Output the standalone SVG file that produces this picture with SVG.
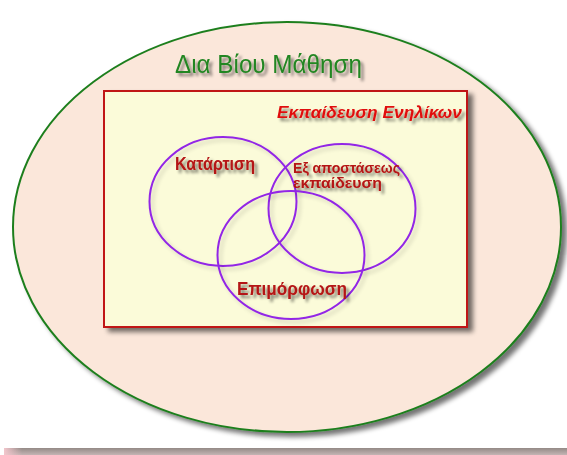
<svg xmlns="http://www.w3.org/2000/svg" width="567" height="455" viewBox="0 0 567 455">
<defs>
<style>
.t{font-family:"Liberation Sans",Arial,sans-serif;}
.venn{fill:none;stroke:#9226e6;stroke-width:2;}
.lbl{font-weight:bold;fill:#b41414;}
</style>
<filter id="sh" x="-20%" y="-20%" width="140%" height="140%">
<feGaussianBlur in="SourceAlpha" stdDeviation="2.5"/>
<feOffset dx="5" dy="4" result="b"/>
<feComponentTransfer><feFuncA type="linear" slope="0.55"/></feComponentTransfer>
<feMerge><feMergeNode/><feMergeNode in="SourceGraphic"/></feMerge>
</filter>
<filter id="tsh" x="-20%" y="-50%" width="140%" height="200%">
<feGaussianBlur in="SourceAlpha" stdDeviation="1.6"/>
<feOffset dx="3" dy="3"/>
<feComponentTransfer><feFuncA type="linear" slope="0.5"/></feComponentTransfer>
<feMerge><feMergeNode/><feMergeNode in="SourceGraphic"/></feMerge>
</filter>
<filter id="csh" x="-20%" y="-20%" width="140%" height="140%">
<feGaussianBlur in="SourceAlpha" stdDeviation="2"/>
<feOffset dx="3" dy="3"/>
<feComponentTransfer><feFuncA type="linear" slope="0.18"/></feComponentTransfer>
<feMerge><feMergeNode/><feMergeNode in="SourceGraphic"/></feMerge>
</filter>
<linearGradient id="bar" x1="0" y1="0" x2="0" y2="1">
<stop offset="0" stop-color="#948a86"/>
<stop offset="1" stop-color="#c4b4b4"/>
</linearGradient>
<linearGradient id="barL" x1="0" y1="0" x2="1" y2="0">
<stop offset="0" stop-color="#f2c6cc" stop-opacity="1"/>
<stop offset="1" stop-color="#f2c6cc" stop-opacity="0"/>
</linearGradient>
</defs>
<rect width="567" height="455" fill="#ffffff"/>
<g id="bottom-bar">
<rect x="4" y="448" width="563" height="7" fill="url(#bar)"/>
<rect x="4" y="448" width="18" height="7" fill="url(#barL)"/>
</g>
<g id="lifelong-learning">
<ellipse cx="287" cy="227" rx="274" ry="205" fill="#fbe7da" stroke="#1f7f1f" stroke-width="2" filter="url(#sh)"/>
<text class="t" x="175" y="73" font-size="25.5" fill="#248624" textLength="187" lengthAdjust="spacingAndGlyphs" filter="url(#tsh)">Δια Βίου Μάθηση</text>
</g>
<g id="adult-education">
<rect x="104" y="91" width="363" height="236" fill="#fbfbd9" stroke="#c01818" stroke-width="2" filter="url(#sh)"/>
<text class="t" x="277" y="118" font-size="17" font-weight="bold" font-style="italic" fill="#e01010" textLength="185" lengthAdjust="spacingAndGlyphs" filter="url(#tsh)">Εκπαίδευση Ενηλίκων</text>
</g>
<g id="connectors"></g>
<g id="training">
<ellipse class="venn" cx="223" cy="201.5" rx="73.5" ry="64.5" filter="url(#csh)"/>
<text class="t lbl" x="175" y="169.5" font-size="17.5" textLength="80" lengthAdjust="spacingAndGlyphs" filter="url(#tsh)">Κατάρτιση</text>
</g>
<g id="distance-education">
<ellipse class="venn" cx="342" cy="208.5" rx="73.5" ry="64.5" filter="url(#csh)"/>
<text class="t lbl" x="293" y="172.5" font-size="14" textLength="107" lengthAdjust="spacingAndGlyphs" filter="url(#tsh)">Εξ αποστάσεως</text>
<text class="t lbl" x="293" y="187.5" font-size="14" textLength="89" lengthAdjust="spacingAndGlyphs" filter="url(#tsh)">εκπαίδευση</text>
</g>
<g id="further-training">
<ellipse class="venn" cx="291" cy="255" rx="73.5" ry="64" filter="url(#csh)"/>
<text class="t lbl" x="237" y="294.5" font-size="17.5" textLength="110" lengthAdjust="spacingAndGlyphs" filter="url(#tsh)">Επιμόρφωση</text>
</g>
</svg>
